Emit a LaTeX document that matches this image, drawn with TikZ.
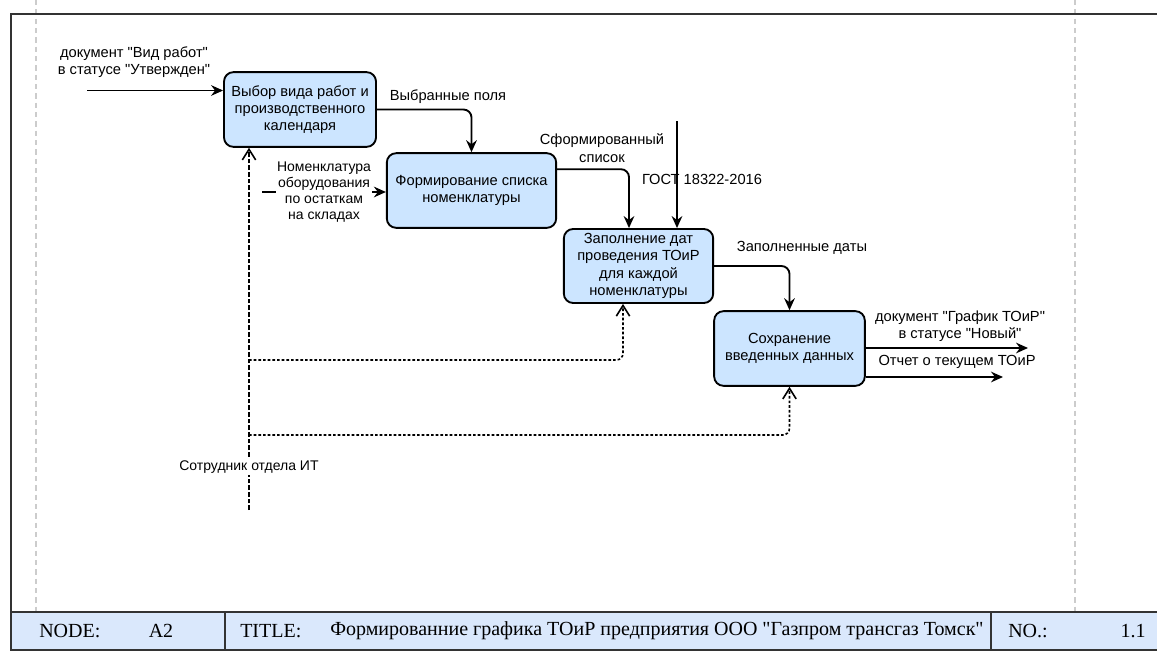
\documentclass[tikz,border=0pt]{standalone}
\usepackage{fontspec}
\setmainfont{Liberation Serif}
\setsansfont{Liberation Sans}
\usepackage{xcolor}
\usetikzlibrary{arrows.meta, positioning, calc}
\definecolor{funcblue}{HTML}{CCE5FF}
\definecolor{barblue}{HTML}{DAE8FC}
\definecolor{framegray}{HTML}{333333}
\newcommand{\qt}[1]{\textquotedbl#1\textquotedbl}

\begin{document}
\begin{tikzpicture}[
    x=0.75pt, y=-0.75pt,
    font=\sffamily\fontsize{11}{13}\selectfont,
    func/.style={draw, line width=1.4pt, rounded corners=7pt, fill=funcblue, align=center, inner sep=2pt},
    lbl/.style={align=center, inner sep=1pt},
    arrow/.style={-{Stealth[length=9pt, width=8pt, inset=3pt]}, line width=1.4pt, rounded corners=6pt},
    mech/.style={-{Straight Barb[length=8pt, width=10pt]}, line width=1.2pt, dash pattern=on 2pt off 1.5pt, rounded corners=5pt},
    page/.style={draw=gray!40, line width=1.4pt, dash pattern=on 4pt off 3pt},
    bartext/.style={font=\rmfamily\fontsize{15}{17}\selectfont, inner sep=0pt}
]
\useasboundingbox (0,0) rectangle (1157,653);

% page borders and frame
\draw[page] (36,0) -- (36,612);
\draw[page] (1075,0) -- (1075,612);
\draw[framegray, line width=1.5pt] (1162,14) -- (11,14) -- (11,612);

% function boxes
\node[func, minimum width=114pt, minimum height=56pt] (sel) at (300,109.5) {Выбор вида работ и\\производственного\\календаря};
\node[func, minimum width=127pt, minimum height=56pt] (form) at (471.5,190.5) {Формирование списка\\номенклатуры};
\node[func, minimum width=112pt, minimum height=55.5pt] (fill) at (638.5,266) {Заполнение дат\\проведения ТОиР\\для каждой\\номенклатуры};
\node[func, minimum width=113pt, minimum height=56pt] (save) at (789.5,348.5) {Сохранение\\введенных данных};

% inputs
\coordinate (in1) at (87,90.5);
\draw[arrow] (in1) -- (in1 -| sel.west);
\node[lbl] (in1lbl) at (134,62) {документ \qt{Вид работ}\\в статусе \qt{Утвержден}};
\coordinate (in2) at (262,192);
\draw[arrow] (in2) -- (in2 -| form.west);
\node[lbl, fill=white, font=\sffamily\fontsize{10.5}{12}\selectfont] (in2lbl) at (324,192) {Номенклатура\\оборудования\\по остаткам\\на складах};

% flow between boxes
\draw[arrow] (sel.east) -| (form.north);
\node[lbl] (sellbl) at (448,97) {Выбранные поля};
\draw[arrow] ($(form.north east)+(0,17)$) -| ($(fill.north)+(-9.5,0)$);
\node[lbl] (formlbl) at (602,148) {Сформированный\\список};
\draw[arrow] (fill.east) -| (save.north);
\node[lbl] (filllbl) at (802,248) {Заполненные даты};

% control
\coordinate (gost) at (677,121);
\draw[arrow] (gost) -- (gost |- fill.north);
\node[lbl] (gostlbl) at (702,179) {ГОСТ 18322-2016};

% outputs
\coordinate (out1) at (1028,348);
\coordinate (out2) at (1003,377);
\draw[arrow] (save.east |- out1) -- (out1);
\draw[arrow] (save.east |- out2) -- (out2);
\node[lbl] (out1lbl) at (960,326) {документ \qt{График ТОиР}\\в статусе \qt{Новый}};
\node[lbl] (out2lbl) at (957,362) {Отчет о текущем ТОиР};

% mechanism
\coordinate (staff) at (249,510);
\coordinate (j1) at (249,360);
\coordinate (j2) at (249,435);
\draw[mech, dash pattern=on 3.5pt off 1.5pt] (staff) -- (staff |- sel.south);
\draw[mech] (j1) -| ($(fill.south)+(-15.5,0)$);
\draw[mech] (j2) -| (save.south);
\node[lbl, fill=white, font=\sffamily\fontsize{10.5}{12}\selectfont] (stafflbl) at (249,467) {Сотрудник отдела ИТ};

% title bar
\draw[framegray, line width=1.5pt, fill=barblue] (11,612) rectangle (1162,650);
\draw[framegray, line width=1.5pt] (225,612) -- (225,650);
\draw[framegray, line width=1.5pt] (991,612) -- (991,650);
\node[bartext, anchor=west] (nodelbl) at (39,631) {NODE:};
\node[bartext] (nodeid) at (161,631) {A2};
\node[bartext, anchor=west] (titlelbl) at (240,631) {TITLE:};
\node[bartext, anchor=west] (title) at (330,631) {Формированние графика ТОиР предприятия ООО \qt{Газпром трансгаз Томск}};
\node[bartext, anchor=west] (nolbl) at (1008,631) {NO.:};
\node[bartext] (noid) at (1133,631) {1.1};
\end{tikzpicture}
\end{document}
